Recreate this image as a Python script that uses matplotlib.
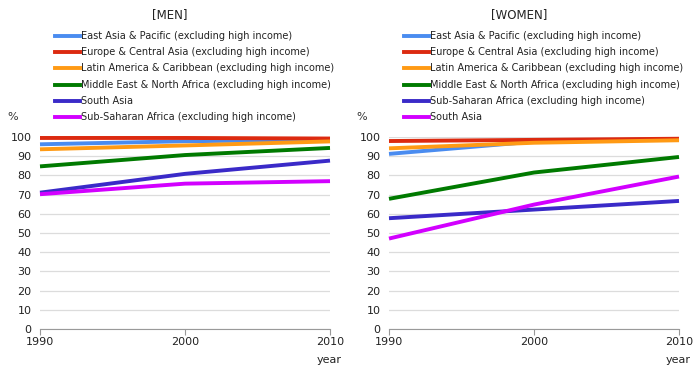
import matplotlib
matplotlib.use("Agg")
from matplotlib import pyplot as plt
from matplotlib.lines import Line2D

plt.rcParams['font.family'] = ['DejaVu Sans']

years = [1990, 2000, 2010]

# 男性
men_names = ['East Asia & Pacific (excluding high income)',
             'Europe & Central Asia (excluding high income)',
             'Latin America & Caribbean (excluding high income)',
             'Middle East & North Africa (excluding high income)',
             'South Asia',
             'Sub-Saharan Africa (excluding high income)']
men_east_asia = [96.2, 97.8, 98.5]
men_europe = [99.5, 99.5, 99.2]
men_latin = [93.6, 95.6, 97.7]
men_mideast = [84.7, 90.6, 94.3]
men_south_asia = [71.0, 80.8, 87.7]
men_ssa = [70.2, 75.7, 77.0]

# 女性
women_names = ['East Asia & Pacific (excluding high income)',
               'Europe & Central Asia (excluding high income)',
               'Latin America & Caribbean (excluding high income)',
               'Middle East & North Africa (excluding high income)',
               'Sub-Saharan Africa (excluding high income)',
               'South Asia']
women_east_asia = [91.2, 97.6, 99.0]
women_europe = [97.9, 98.5, 99.1]
women_latin = [94.1, 97.0, 98.3]
women_mideast = [67.8, 81.5, 89.6]
women_ssa = [57.7, 62.2, 66.7]
women_south_asia = [47.1, 64.8, 79.4]

colors = ['#4a8cf0', '#dc2a10', '#ff9a14', '#007a00', '#3a2ac8', '#d200ff']

men_series = [men_east_asia, men_europe, men_latin, men_mideast, men_south_asia, men_ssa]
women_series = [women_east_asia, women_europe, women_latin, women_mideast, women_ssa, women_south_asia]

W, H = 700, 370
fig = plt.figure(figsize=(7, 3.7), dpi=100)

def panel(x0, title, names, series):
    ax = fig.add_axes([(x0 + 40) / W, 1 - 329 / H, 290 / W, 192 / H])
    for vals, c in zip(series, colors):
        ax.plot(years, vals, color=c, lw=2.8, clip_on=False, solid_capstyle='butt')
    ax.set_xlim(1990, 2010)
    ax.set_ylim(0, 100)
    ax.set_yticks(range(0, 101, 10))
    ax.set_xticks(years)
    ax.grid(axis='y', color='#dcdcdc', lw=0.9)
    ax.set_axisbelow(True)
    for s in ['left', 'right', 'top']:
        ax.spines[s].set_visible(False)
    ax.spines['bottom'].set_color('#999999')
    ax.tick_params(axis='y', length=0, pad=6, labelsize=8, labelcolor='#222222')
    ax.tick_params(axis='x', length=4, color='#999999', labelsize=8, pad=2, labelcolor='#222222')
    # タイトル・凡例
    fig.text((x0 + 170) / W, 1 - 15 / H, title, ha='center', va='center', fontsize=8.5, color='#222222')
    for i, (name, c) in enumerate(zip(names, colors)):
        y = 1 - (36 + i * 16.2) / H
        fig.add_artist(Line2D([(x0 + 55) / W, (x0 + 80) / W], [y, y], color=c, lw=2.8))
        fig.text((x0 + 81) / W, y, name, va='center', fontsize=7.0, color='#222222')
    fig.text((x0 + 13) / W, 1 - 117 / H, '%', ha='center', va='center', fontsize=8, color='#333333')
    fig.text((x0 + 329) / W, 1 - 360 / H, 'year', ha='center', va='center', fontsize=8, color='#222222')
    return ax

panel(0, '[MEN]', men_names, men_series)
panel(349, '[WOMEN]', women_names, women_series)

fig.savefig('out.png', dpi=100)
